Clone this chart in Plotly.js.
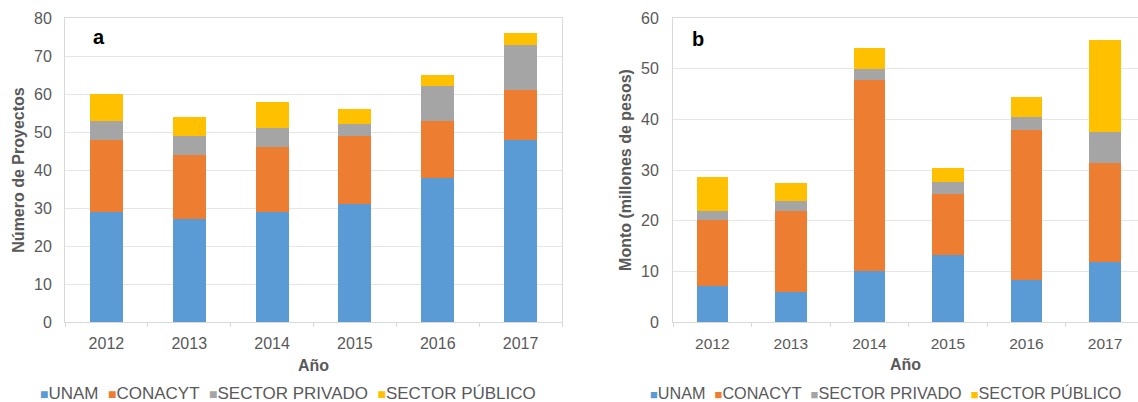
<!DOCTYPE html>
<html>
<head>
<meta charset="utf-8">
<script src="https://cdn.plot.ly/plotly-3.0.1.min.js"></script>
<style>html,body{margin:0;padding:0;background:#fff;}#chart{width:1138px;height:402px;}</style>
</head>
<body>
<div id="chart"></div>
<script>
// Categories
const years = ["2012", "2013", "2014", "2015", "2016", "2017"];
const seriesNames = ["UNAM", "CONACYT", "SECTOR PRIVADO", "SECTOR PÚBLICO"];

// Panel a: Número de Proyectos (segment sizes)
const proyUNAM     = [29, 27, 29, 31, 38, 48];
const proyCONACYT  = [19, 17, 17, 18, 15, 13];
const proyPrivado  = [5, 5, 5, 3, 9, 12];
const proyPublico  = [7, 5, 7, 4, 3, 3];

// Panel b: Monto (millones de pesos) (segment sizes)
const montoUNAM    = [7.2, 5.9, 10.0, 13.2, 8.3, 11.9];
const montoCONACYT = [13.0, 16.1, 37.8, 12.0, 29.6, 19.5];
const montoPrivado = [1.7, 1.9, 2.1, 2.5, 2.5, 6.1];
const montoPublico = [6.8, 3.5, 4.2, 2.6, 4.0, 18.2];

const colors = ["#5B9BD5", "#ED7D31", "#A5A5A5", "#FFC000"];
const FONT = "Liberation Sans, Arial, sans-serif";
const TXT = "#595959";

const dataA = [proyUNAM, proyCONACYT, proyPrivado, proyPublico];
const dataB = [montoUNAM, montoCONACYT, montoPrivado, montoPublico];

const traces = [];
dataA.forEach((vals, i) => {
  traces.push({type: "bar", x: years, y: vals, name: seriesNames[i],
    marker: {color: colors[i]}, xaxis: "x", yaxis: "y", showlegend: false});
});
dataB.forEach((vals, i) => {
  traces.push({type: "bar", x: years, y: vals, name: seriesNames[i],
    marker: {color: colors[i]}, xaxis: "x2", yaxis: "y2", showlegend: false});
});

const W = 1138, H = 402;
const yDom = [(H - 322) / H, (H - 18) / H];

function xAxis(domain, range, anchor, tsize) {
  return {
    domain: domain, range: range, type: "category", anchor: anchor,
    showgrid: false, showline: true, linecolor: "#D9D9D9", linewidth: 1, mirror: true,
    ticks: "outside", tickson: "boundaries", ticklen: 4, tickcolor: "#D9D9D9",
    tickfont: {family: FONT, size: tsize, color: TXT},
    ticklabelstandoff: 7,
    title: {text: "<b>Año</b>", font: {family: FONT, size: 16, color: TXT}, standoff: 8},
    fixedrange: true, automargin: false
  };
}
function yAxis(domain, range, title, anchor, gap) {
  return {
    domain: domain, range: range, dtick: 10, anchor: anchor,
    showgrid: true, gridcolor: "#E6E6E6", gridwidth: 1,
    showline: true, linecolor: "#D9D9D9", mirror: true, zeroline: false,
    ticks: "", tickfont: {family: FONT, size: 16, color: TXT},
    ticklabelstandoff: gap,
    title: {text: "<b>" + title + "</b>", font: {family: FONT, size: 16, color: TXT}, standoff: 5},
    fixedrange: true, automargin: false
  };
}

function legendText(fontSize) {
  return seriesNames.map((n, i) =>
    '<span style="color:' + colors[i] + ';font-size:' + Math.round(fontSize * 0.8) + 'px">■</span>' + n
  ).join("&nbsp;&nbsp;");
}

const layout = {
  width: W, height: H,
  margin: {l: 0, r: 0, t: 0, b: 0},
  paper_bgcolor: "#fff", plot_bgcolor: "#fff",
  barmode: "stack", bargap: 0.6,
  font: {family: FONT, color: TXT},
  xaxis: xAxis([65 / W, 562 / W], [-0.5, 5.5], "y", 16),
  yaxis: yAxis(yDom, [0, 80], "Número de Proyectos", "x", 9),
  xaxis2: xAxis([673 / W, 1 ], [-0.5, 5.42], "y2", 15.5),
  yaxis2: yAxis(yDom, [0, 60], "Monto (millones de pesos)", "x2", 10),
  showlegend: false,
  annotations: [
    {text: "<b>a</b>", x: 91 / W, y: (H - 37) / H, xref: "paper", yref: "paper", showarrow: false,
      xanchor: "left", yanchor: "middle", font: {family: FONT, size: 20, color: "#000"}},
    {text: "<b>b</b>", x: 690 / W, y: (H - 39) / H, xref: "paper", yref: "paper", showarrow: false,
      xanchor: "left", yanchor: "middle", font: {family: FONT, size: 20, color: "#000"}},
    {text: legendText(17), x: 288 / W, y: (H - 393) / H, xref: "paper", yref: "paper", showarrow: false,
      xanchor: "center", yanchor: "middle", font: {family: FONT, size: 17, color: TXT}},
    {text: legendText(16.2), x: 885 / W, y: (H - 393) / H, xref: "paper", yref: "paper", showarrow: false,
      xanchor: "center", yanchor: "middle", font: {family: FONT, size: 16.2, color: TXT}}
  ]
};

Plotly.newPlot("chart", traces, layout, {staticPlot: true, displayModeBar: false});
</script>
</body>
</html>
